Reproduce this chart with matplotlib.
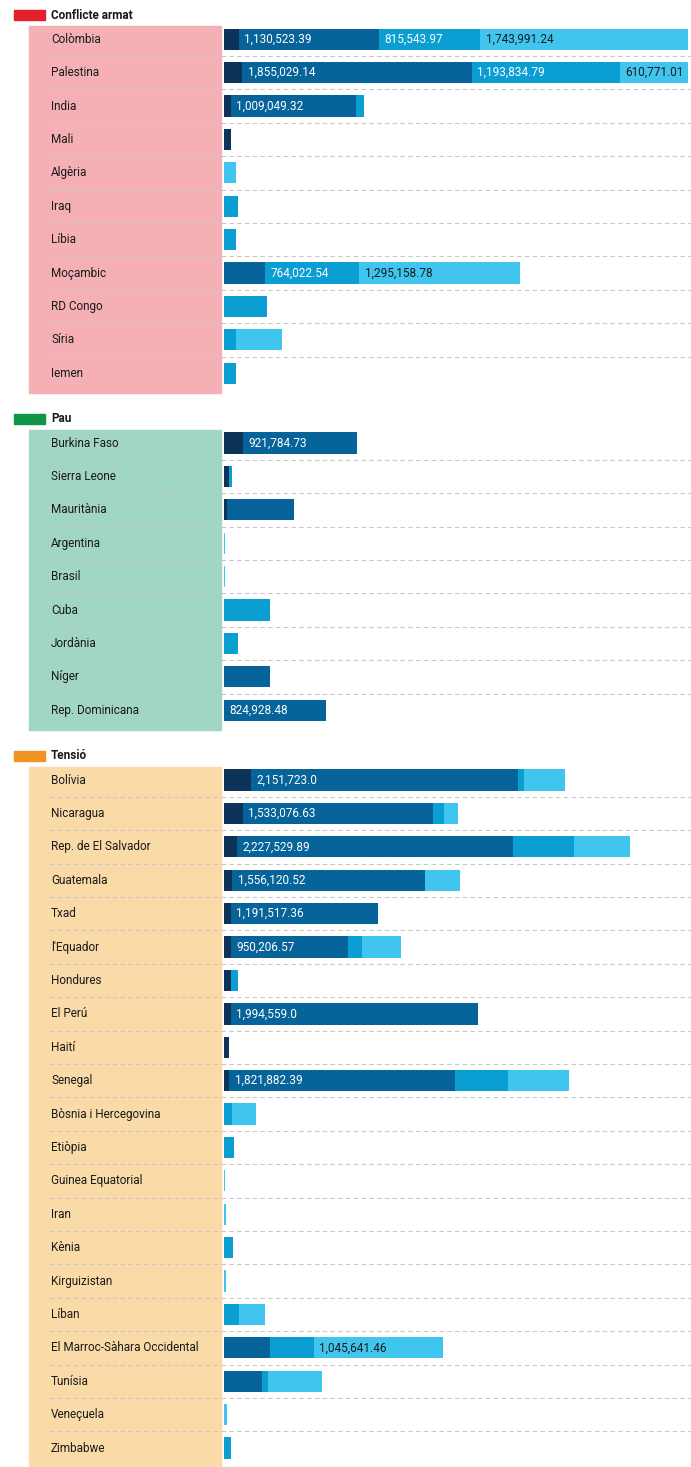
import matplotlib.pyplot as plt
from matplotlib.patches import Rectangle
from matplotlib.lines import Line2D
from matplotlib.transforms import blended_transform_factory

plt.rcParams['font.family'] = ['Roboto', 'DejaVu Sans']

# --- data (4 stacked series per country) ---
conflict_names = ['Colòmbia', 'Palestina', 'India', 'Mali', 'Algèria', 'Iraq', 'Líbia',
                  'Moçambic', 'RD Congo', 'Síria', 'Iemen']
conflict_s1 = [120000, 145000, 55000, 55000, 0, 0, 0, 0, 0, 0, 0]
conflict_s2 = [1130523.39, 1855029.14, 1009049.32, 0, 0, 0, 0, 328000, 0, 0, 0]
conflict_s3 = [815543.97, 1193834.79, 65000, 0, 0, 110000, 97000, 764022.54, 344000, 97000, 94000]
conflict_s4 = [1743991.24, 610771.01, 0, 0, 94000, 0, 0, 1295158.78, 0, 369000, 0]

peace_names = ['Burkina Faso', 'Sierra Leone', 'Mauritània', 'Argentina', 'Brasil', 'Cuba',
               'Jordània', 'Níger', 'Rep. Dominicana']
peace_s1 = [151000, 40000, 22000, 0, 0, 0, 0, 0, 0]
peace_s2 = [921784.73, 0, 540000, 0, 0, 0, 0, 368000, 824928.48]
peace_s3 = [0, 27000, 0, 0, 0, 368000, 110000, 0, 0]
peace_s4 = [0, 0, 0, 11000, 10000, 0, 0, 0, 0]

tension_names = ['Bolívia', 'Nicaragua', 'Rep. de El Salvador', 'Guatemala', 'Txad', "l'Equador",
                 'Hondures', 'El Perú', 'Haití', 'Senegal', 'Bòsnia i Hercegovina', 'Etiòpia',
                 'Guinea Equatorial', 'Iran', 'Kènia', 'Kirguizistan', 'Líban',
                 'El Marroc-Sàhara Occidental', 'Tunísia', 'Veneçuela', 'Zimbabwe']
tension_s1 = [218000, 151000, 108000, 67000, 54000, 54000, 56000, 54000, 43000, 43000,
              0, 0, 0, 0, 0, 0, 0, 0, 0, 0, 0]
tension_s2 = [2151723.0, 1533076.63, 2227529.89, 1556120.52, 1191517.36, 950206.57, 0,
              1994559.0, 0, 1821882.39, 0, 0, 0, 0, 0, 0, 0, 368000, 304000, 0, 0]
tension_s3 = [54000, 94000, 492000, 0, 0, 110000, 54000, 0, 0, 425000, 67000, 81000,
              0, 0, 70000, 0, 124000, 355000, 54000, 0, 54000]
tension_s4 = [325000, 110000, 452000, 282000, 0, 312000, 0, 0, 0, 492000, 191000, 0,
              12000, 13000, 0, 13000, 204000, 1045641.46, 436000, 27000, 0]

groups = [
    ('Conflicte armat', '#e3202a', '#f5b0b6', conflict_names,
     [conflict_s1, conflict_s2, conflict_s3, conflict_s4]),
    ('Pau', '#0f9448', '#a0d6c2', peace_names,
     [peace_s1, peace_s2, peace_s3, peace_s4]),
    ('Tensió', '#f29421', '#fadba8', tension_names,
     [tension_s1, tension_s2, tension_s3, tension_s4]),
]
seg_colors = ['#0e3358', '#07649a', '#0a9ed3', '#40c5ee']
label_colors = ['white', 'white', 'white', '#1a1a1a']

W, H = 691, 1467
ROW = 33.4  # px per row
fig = plt.figure(figsize=(W / 100, H / 100), dpi=100)
ax = fig.add_axes([224 / W, 0, 464 / W, 1])
ax.set_xlim(0, 3.745e6)
ax.set_ylim(H / ROW, 0)
ax.axis('off')
tr = blended_transform_factory(fig.transFigure, ax.transData)

y = 39.2 / ROW
for title, hcol, bgcol, names, series in groups:
    n = len(names)
    ys = [y + i for i in range(n)]
    # header
    hy = ys[0] - 0.72
    ax.add_patch(Rectangle((14 / W, hy - 0.15), 31 / W, 0.3, transform=tr,
                           color=hcol, clip_on=False, zorder=2))
    ax.text(51 / W, hy, title, transform=tr, fontsize=8.5, fontweight='bold',
            color='#1a1a1a', va='center', ha='left')
    # background of label column
    ax.add_patch(Rectangle((29 / W, ys[0] - 0.4), 192 / W, (ys[-1] + 0.58) - (ys[0] - 0.4),
                           transform=tr, color=bgcol, clip_on=False, zorder=1))
    # dashed separators
    for yy in ys[:-1]:
        ax.add_line(Line2D([50 / W, 1.0], [yy + 0.5, yy + 0.5], transform=tr,
                           color='#c8c8c8', lw=0.8, dashes=(4, 3), clip_on=False, zorder=2))
    for i, name in enumerate(names):
        ax.text(51 / W, ys[i], name, transform=tr, fontsize=8.5, color='#1a1a1a',
                va='center', ha='left', zorder=4)
    # stacked bars
    left = [0] * n
    for k, vals in enumerate(series):
        ax.barh(ys, vals, left=left, height=0.64, color=seg_colors[k], zorder=3)
        for i, v in enumerate(vals):
            if v > 600000:
                ax.annotate(format(v, ','), xy=(left[i], ys[i]), xytext=(4, 0),
                            textcoords='offset points', va='center', ha='left',
                            fontsize=8.5, color=label_colors[k], zorder=5)
        left = [a + b for a, b in zip(left, vals)]
    y = ys[-1] + 2.09

fig.savefig('out.png', dpi=100)
